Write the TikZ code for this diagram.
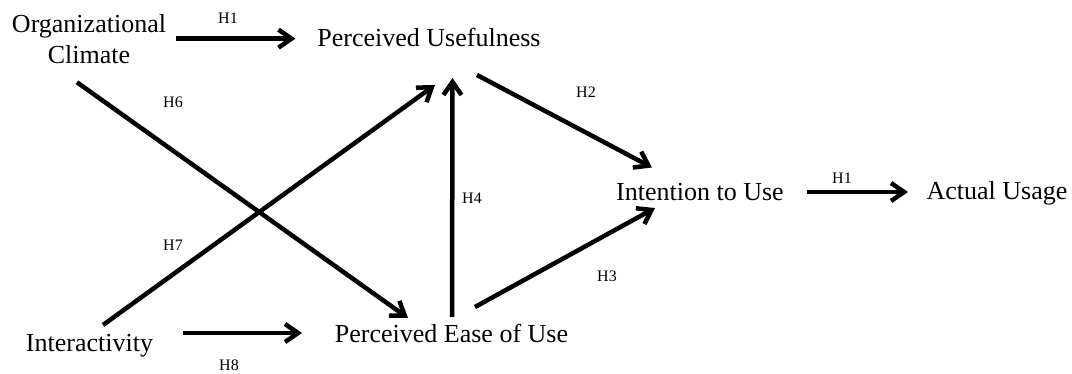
\documentclass[tikz,border=0pt]{standalone}
\usepackage{fontspec}
\setmainfont{Liberation Serif}
\usetikzlibrary{arrows.meta}
\begin{document}
\begin{tikzpicture}[x=1pt,y=-1pt,
  concept/.style={inner sep=0pt, outer sep=0pt, font=\fontsize{26}{31}\selectfont},
  hyp/.style={inner sep=0pt, font=\fontsize{16}{19}\selectfont},
  link/.style={line width=4.5pt, -{Straight Barb[length=13pt,width=18pt]}}]
\useasboundingbox[fill=white] (0,0) rectangle (1072,374);

% constructs
\node[concept, align=center, anchor=north] (oc) at (89,14) {Organizational\\Climate};
\node[concept, anchor=base] (pu) at (429,47) {Perceived Usefulness};
\node[concept, anchor=base] (it) at (89.5,352) {Interactivity};
\node[concept, anchor=base] (peou) at (451.5,343) {Perceived Ease of Use};
\node[concept, anchor=base] (iu) at (700,200.5) {Intention to Use};
\node[concept, anchor=base] (au) at (997,200) {Actual Usage};

% hypothesis labels
\node[hyp] (h1a) at (228,18.5) {H1};
\node[hyp] (h6) at (173,102) {H6};
\node[hyp] (h7) at (173,245) {H7};
\node[hyp] (h8) at (229,365) {H8};
\node[hyp] (h4) at (472,198) {H4};
\node[hyp] (h2) at (586,92) {H2};
\node[hyp] (h3) at (607,276) {H3};
\node[hyp] (h1b) at (842,178) {H1};

% paths
\draw[link, shorten <=10pt, shorten >=22pt] (oc.east) -- (oc.east -| pu.west);
\draw[link] ([shift={(-12,19)}]oc.south) -- ([shift={(-43.5,-25)}]peou.base);
\draw[link] ([shift={(13.5,-27)}]it.base) -- ([shift={(6,38)}]pu.base);
\draw[link] ([shift={(93.5,-19)}]it.base) -- ([shift={(-149.5,-19)}]peou.base |- it.base);
\draw[link] ([shift={(0.5,-26)}]peou.base) -- ([shift={(23.5,31)}]pu.base);
\draw[link] ([shift={(48,28)}]pu.base) -- ([shift={(-48,-33)}]iu.base);
\draw[link] ([shift={(23.5,-36)}]peou.base) -- ([shift={(-45,7.5)}]iu.base);
\draw[link] ([shift={(107,-8.5)}]iu.base) -- ([shift={(-89,-8.5)}]au.base |- iu.base);
\end{tikzpicture}
\end{document}
